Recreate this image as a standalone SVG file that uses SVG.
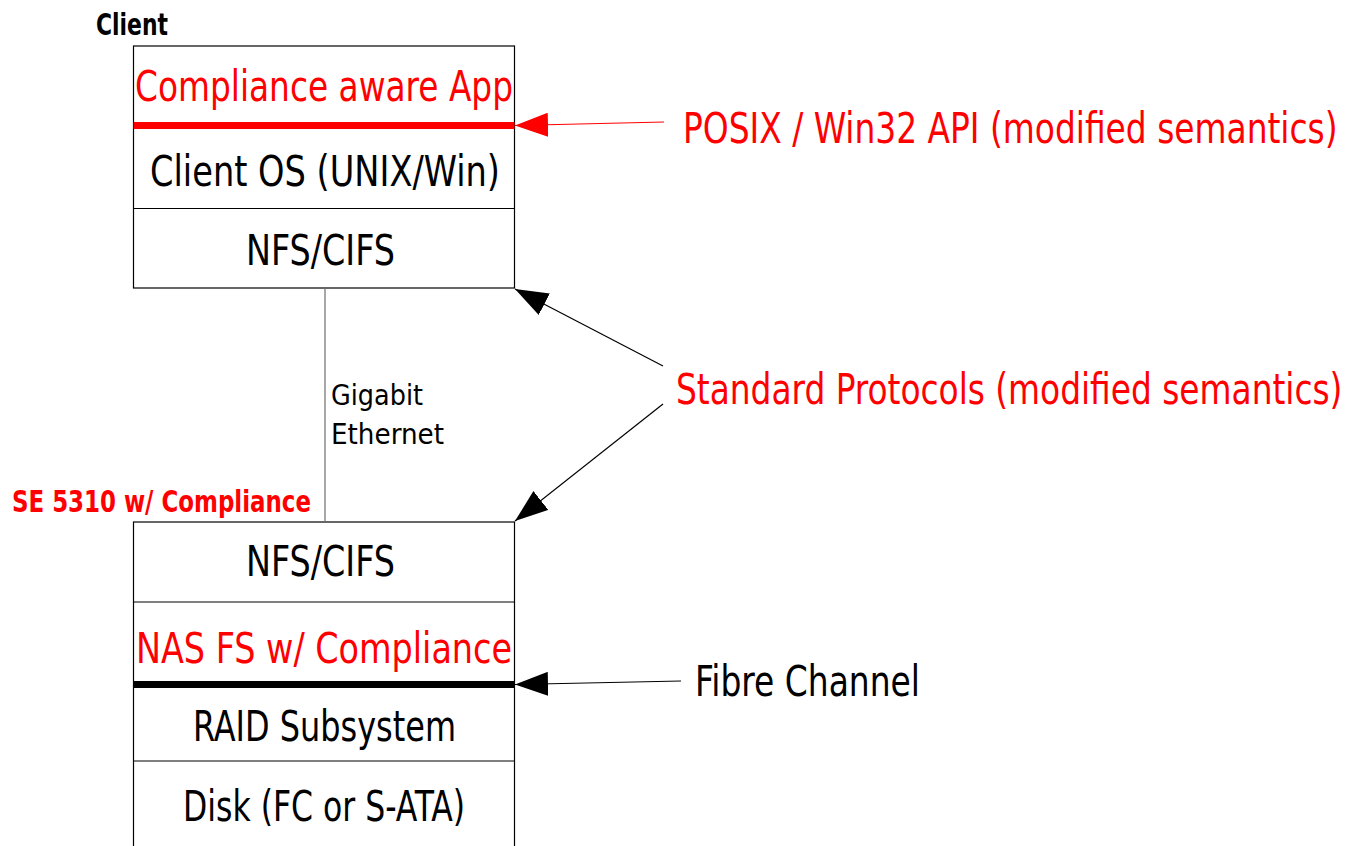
<svg xmlns="http://www.w3.org/2000/svg" width="1351" height="846" viewBox="0 0 1351 846">
  <style>
    text { font-family: "DejaVu Sans Condensed", "DejaVu Sans", sans-serif; font-stretch: condensed; }
    .big { font-size: 43px; }
    .mid { font-size: 29px; }
    .bold { font-weight: bold; font-size: 30px; }
    .red { fill: #ff0000; }
    .blk { fill: #000000; }
    .box { fill: #ffffff; stroke: #000000; stroke-width: 1.2; }
    .sep { stroke: #000000; stroke-width: 1.2; }
    .conn { fill: none; stroke-width: 1.2; }
  </style>
  <defs>
    <marker id="arrowRed" markerUnits="userSpaceOnUse" markerWidth="34" markerHeight="24" refX="33" refY="12" orient="auto">
      <path d="M0,0 L33,12 L0,24 Z" fill="#ff0000"/>
    </marker>
    <marker id="arrowBlk" markerUnits="userSpaceOnUse" markerWidth="34" markerHeight="24" refX="33" refY="12" orient="auto">
      <path d="M0,0 L33,12 L0,24 Z" fill="#000000"/>
    </marker>
  </defs>

  <!-- Client stack -->
  <g id="client">
    <text class="bold blk" x="96" y="35" textLength="72" lengthAdjust="spacingAndGlyphs">Client</text>
    <rect class="box" x="133.5" y="46" width="381" height="242"/>
    <line x1="133.5" y1="125.5" x2="514.5" y2="125.5" stroke="#ff0000" stroke-width="7"/>
    <line class="sep" x1="133.5" y1="208.5" x2="514.5" y2="208.5"/>
    <text class="big red" x="135" y="101" textLength="378" lengthAdjust="spacingAndGlyphs">Compliance aware App</text>
    <text class="big blk" x="150" y="186" textLength="350" lengthAdjust="spacingAndGlyphs">Client OS (UNIX/Win)</text>
    <text class="big blk" x="246" y="265" textLength="149" lengthAdjust="spacingAndGlyphs">NFS/CIFS</text>
  </g>

  <!-- Storage stack -->
  <g id="server">
    <text class="bold red" x="12" y="512" textLength="299" lengthAdjust="spacingAndGlyphs">SE 5310 w/ Compliance</text>
    <rect class="box" x="133.5" y="522" width="381" height="340"/>
    <line class="sep" x1="133.5" y1="602" x2="514.5" y2="602"/>
    <line x1="133.5" y1="684.5" x2="514.5" y2="684.5" stroke="#000000" stroke-width="7"/>
    <line class="sep" x1="133.5" y1="761" x2="514.5" y2="761"/>
    <text class="big blk" x="246" y="576" textLength="149" lengthAdjust="spacingAndGlyphs">NFS/CIFS</text>
    <text class="big red" x="136" y="663" textLength="376" lengthAdjust="spacingAndGlyphs">NAS FS w/ Compliance</text>
    <text class="big blk" x="193" y="741" textLength="263" lengthAdjust="spacingAndGlyphs">RAID Subsystem</text>
    <text class="big blk" x="183" y="821" textLength="282" lengthAdjust="spacingAndGlyphs">Disk (FC or S-ATA)</text>
  </g>

  <!-- Side labels (horizontally compressed to fit the right margin) -->
  <g id="api-label" transform="translate(683,143) scale(0.85,1)">
    <text class="big red" x="0" y="0" textLength="770" lengthAdjust="spacingAndGlyphs">POSIX / Win32 API (modified semantics)</text>
  </g>
  <g id="protocol-label" transform="translate(676,404) scale(0.85,1)">
    <text class="big red" x="0" y="0" textLength="784" lengthAdjust="spacingAndGlyphs">Standard Protocols (modified semantics)</text>
  </g>
  <g id="fc-label">
    <text class="big blk" x="695" y="696" textLength="225" lengthAdjust="spacingAndGlyphs">Fibre Channel</text>
  </g>

  <!-- Connectors -->
  <g id="connectors">
    <line x1="325" y1="288" x2="325" y2="522" stroke="#6e6e6e" stroke-width="1.2"/>
    <text class="mid blk" x="331" y="405" textLength="92" lengthAdjust="spacingAndGlyphs">Gigabit</text>
    <text class="mid blk" x="331" y="444" textLength="113" lengthAdjust="spacingAndGlyphs">Ethernet</text>
    <line class="conn" x1="664" y1="122" x2="515" y2="125.5" stroke="#ff0000" marker-end="url(#arrowRed)"/>
    <line class="conn" x1="663" y1="366" x2="515" y2="289" stroke="#000000" marker-end="url(#arrowBlk)"/>
    <line class="conn" x1="663" y1="404" x2="515" y2="521" stroke="#000000" marker-end="url(#arrowBlk)"/>
    <line class="conn" x1="681" y1="681" x2="515" y2="684.5" stroke="#000000" marker-end="url(#arrowBlk)"/>
  </g>
</svg>
